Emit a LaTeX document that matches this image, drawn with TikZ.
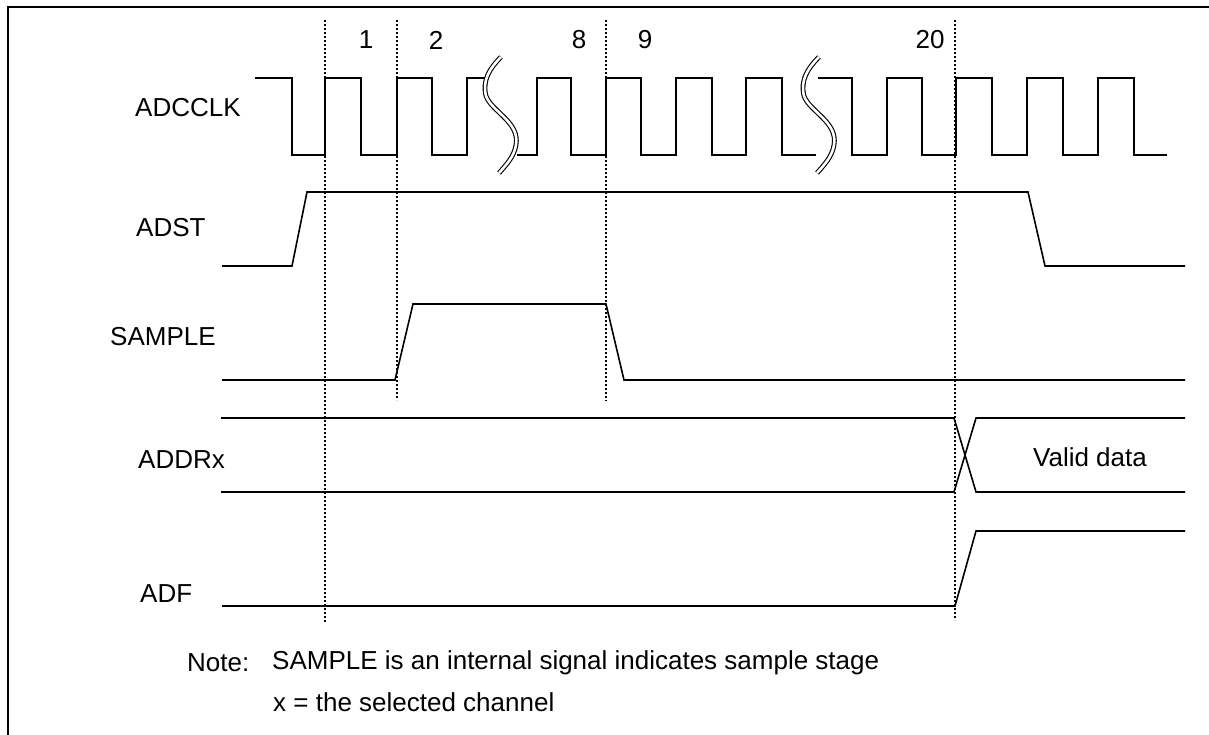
\documentclass[tikz,border=0pt]{standalone}
\usepackage{fontspec}
\setmainfont{Liberation Sans}
\begin{document}
\begin{tikzpicture}[x=1pt,y=-1pt,
  sig/.style={line width=1.6pt,line join=miter},
  guide/.style={line width=1.4pt,dash pattern=on 2pt off 2pt},
  lbl/.style={anchor=west,inner sep=0pt,font=\fontsize{26}{31}\selectfont},
  num/.style={inner sep=0pt,font=\fontsize{26}{31}\selectfont},
  brk/.style={line width=1.1pt,double=white,double distance=2.6pt}]
\useasboundingbox (0,0) rectangle (1209,735);
% frame
\draw[line width=2.5pt] (8,740) -- (8,7) -- (1215,7);
% guide lines
\draw[guide] (325,20) -- (325,623);
\draw[guide] (397,20) -- (397,400);
\draw[guide] (606,20) -- (606,401);
\draw[guide] (955,20) -- (955,620);
% cycle numbers
\node[num] (n1) at (366,40) {1};
\node[num] (n2) at (436,40) {2};
\node[num] (n8) at (579,40) {8};
\node[num] (n9) at (645,40) {9};
\node[num] (n20) at (930,40) {20};
% labels
\node[lbl] (lclk) at (135,108) {ADCCLK};
\node[lbl] (lst) at (136,228) {ADST};
\node[lbl] (lsam) at (110,337) {SAMPLE};
\node[lbl] (ldr) at (138,460) {ADDRx};
\node[lbl] (ldf) at (140,594) {ADF};
% ADCCLK
\draw[sig] (255,78) -- (292,78) -- (292,155) -- (325,155) -- (325,78) -- (361,78) -- (361,155) -- (397,155) -- (397,78) -- (432,78) -- (432,155) -- (467,155) -- (467,78) -- (486,78);
\draw[sig] (517,155) -- (537,155) -- (537,78) -- (571,78) -- (571,155) -- (606,155) -- (606,78) -- (641,78) -- (641,155) -- (676,155) -- (676,78) -- (712,78) -- (712,155) -- (746,155) -- (746,78) -- (782,78) -- (782,155) -- (816,155);
\draw[sig] (818,78) -- (852,78) -- (852,155) -- (887,155) -- (887,78) -- (922,78) -- (922,155) -- (956,155) -- (956,78) -- (992,78) -- (992,155) -- (1027,155) -- (1027,78) -- (1063,78) -- (1063,155) -- (1098,155) -- (1098,78) -- (1134,78) -- (1134,155) -- (1167,155);
% breaks
\foreach \bx in {484,802}{
  \draw[brk] (\bx+17,57) .. controls (\bx+6,68) and (\bx-2,80) .. (\bx+2,96)
     .. controls (\bx+8,112) and (\bx+36,122) .. (\bx+32,145)
     .. controls (\bx+30,157) and (\bx+22,165) .. (\bx+15,173);
}
% ADST
\draw[sig] (222,266) -- (292,266) -- (307,192) -- (1028,192) -- (1045,266) -- (1185,266);
% SAMPLE
\draw[sig] (222,380) -- (395,380) -- (413,304) -- (606,304) -- (624,380) -- (1185,380);
% ADDRx
\draw[sig] (221,418) -- (954,418) -- (976,492) -- (1185,492);
\draw[sig] (221,492) -- (954,492) -- (976,418) -- (1185,418);
\node[num] (vd) at (1090,457) {Valid data};
% ADF
\draw[sig] (222,606) -- (955,606) -- (976,531) -- (1185,531);
% note
\node[lbl] (note) at (187,663) {Note:};
\node[lbl] (note1) at (272,663) {SAMPLE is an internal signal indicates sample stage};
\node[lbl] (note2) at (273,702) {x = the selected channel};
\end{tikzpicture}
\end{document}
